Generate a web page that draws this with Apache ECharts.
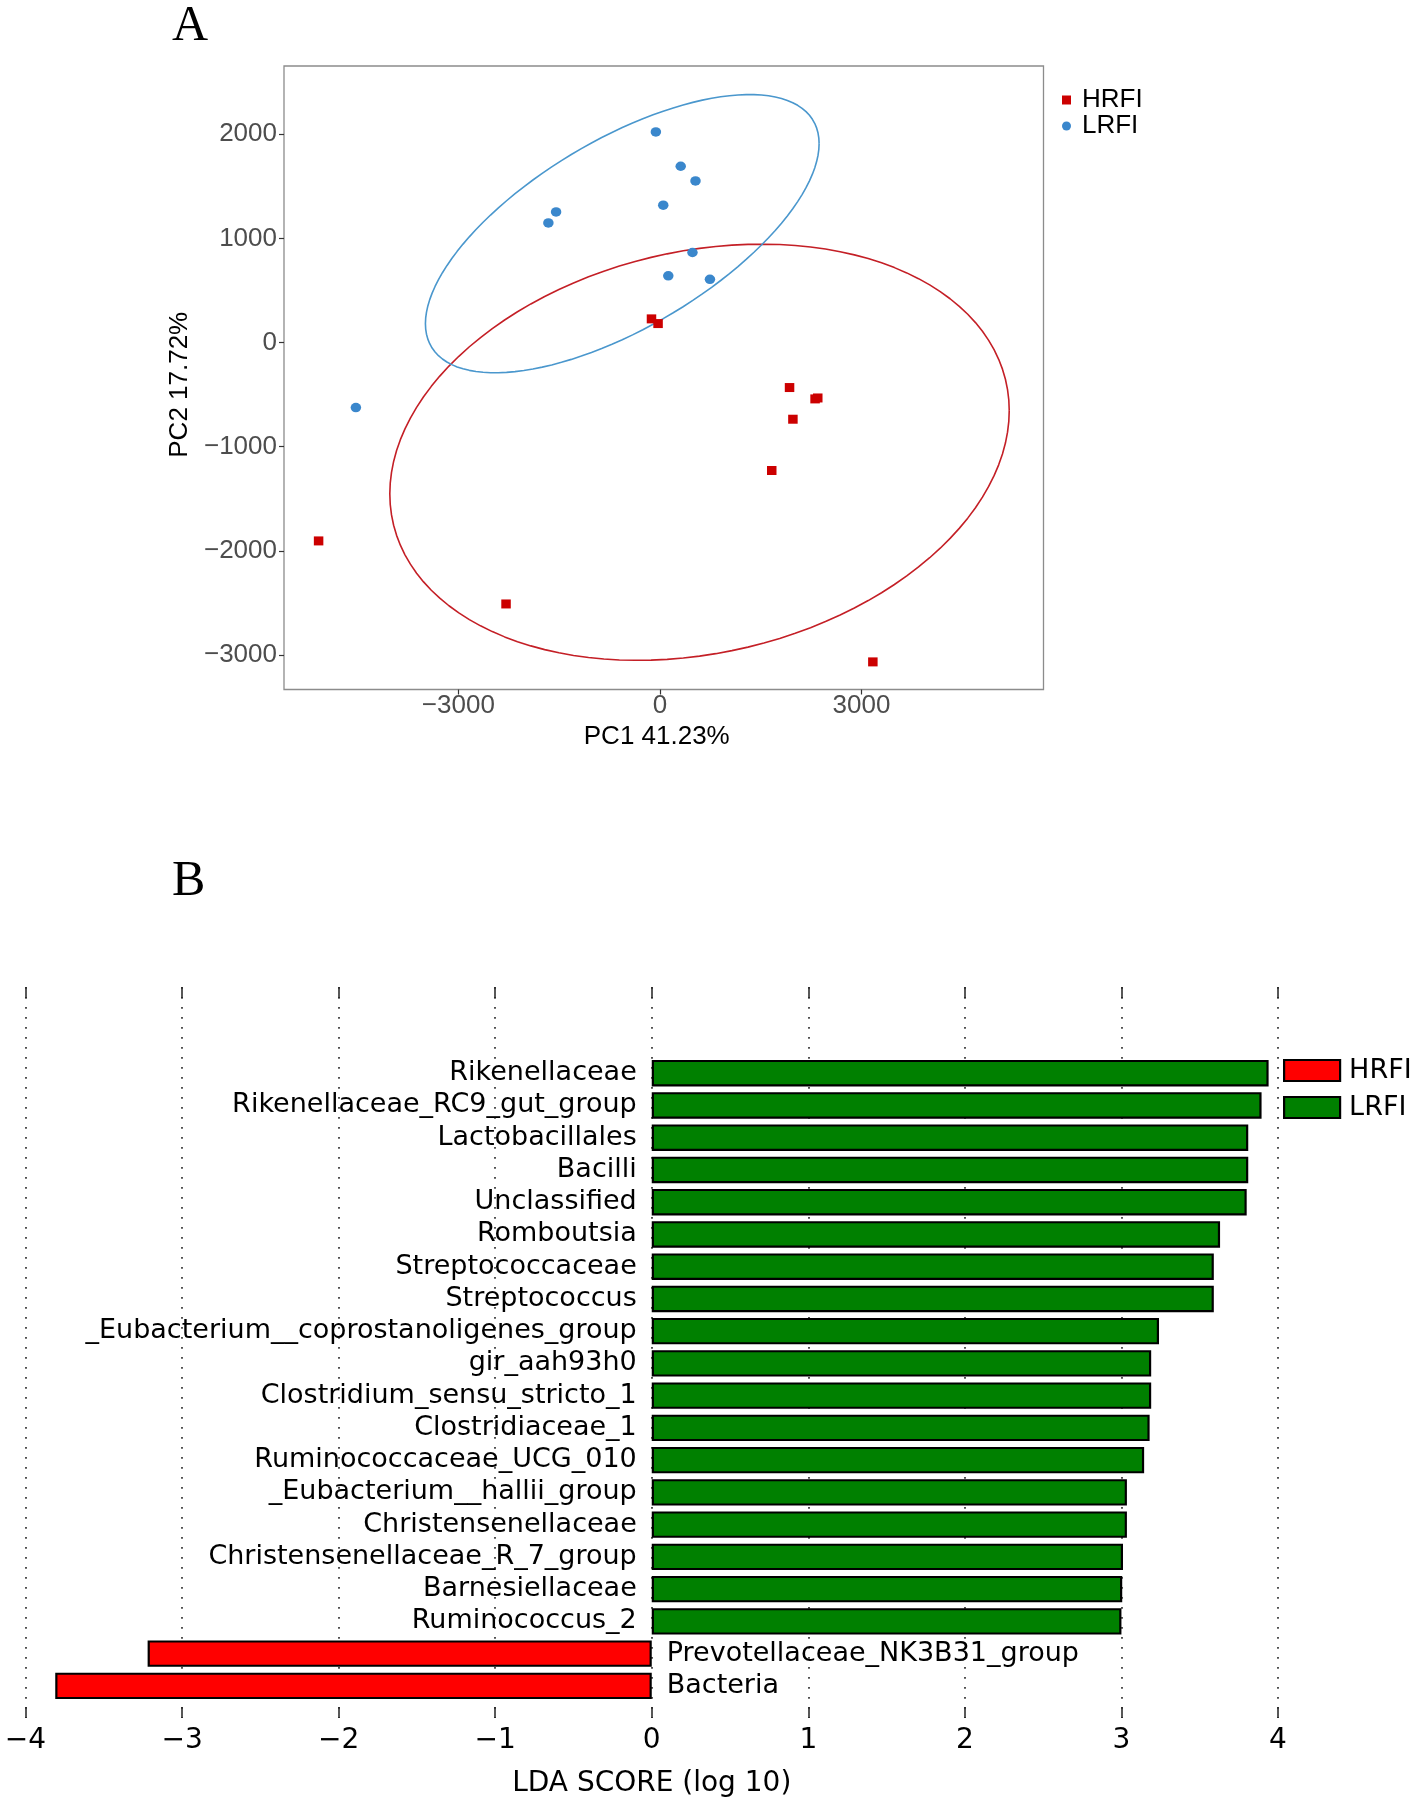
<!DOCTYPE html>
<html>
<head>
<meta charset="utf-8">
<script src="https://cdn.jsdelivr.net/npm/echarts@6/dist/echarts.min.js"></script>
<style>
  html, body { margin: 0; padding: 0; background: #fff; }
  #chartA { position: absolute; left: 0; top: 0; width: 1417px; height: 800px; }
  #chartB { position: absolute; left: 0; top: 800px; width: 1417px; height: 1005px; }
</style>
</head>
<body>
<div id="chartA"></div>
<div id="chartB"></div>
<script>
// ---------- Panel A data (PCA) ----------
const hrfiPC1 = [-125, -27, 1930, 2310, 2350, 1980, 1665, -5080, -2290, 3170];
const hrfiPC2 = [227, 182, -432, -541, -532, -736, -1228, -1904, -2509, -3065];
const lrfiPC1 = [-60, 310, 530, 50, -1545, -1660, 485, 125, 745, -4525];
const lrfiPC2 = [2021, 1692, 1551, 1318, 1253, 1148, 864, 640, 607, -624];
// ellipse: [centerX, centerY, halfWidthX, halfHeightY, correlation]
const hrfiEllipse = [590, -1053, 4610, 1997, 0.20];
const lrfiEllipse = [-560, 1045, 2930, 1335, 0.647];
const pcaXTicks = [-3000, 0, 3000];
const pcaYTicks = [-3000, -2000, -1000, 0, 1000, 2000];

// ---------- Panel B data (LEfSe LDA) ----------
const taxa = [
  'Rikenellaceae', 'Rikenellaceae_RC9_gut_group', 'Lactobacillales', 'Bacilli',
  'Unclassified', 'Romboutsia', 'Streptococcaceae', 'Streptococcus',
  '_Eubacterium__coprostanoligenes_group', 'gir_aah93h0', 'Clostridium_sensu_stricto_1',
  'Clostridiaceae_1', 'Ruminococcaceae_UCG_010', '_Eubacterium__hallii_group',
  'Christensenellaceae', 'Christensenellaceae_R_7_group', 'Barnesiellaceae',
  'Ruminococcus_2', 'Prevotellaceae_NK3B31_group', 'Bacteria'
];
const ldaScores = [3.94, 3.895, 3.81, 3.81, 3.80, 3.63, 3.59, 3.59, 3.24, 3.19, 3.19,
  3.18, 3.145, 3.035, 3.035, 3.01, 3.005, 3.00, -3.22, -3.81];
const taxaGroup = ['LRFI', 'LRFI', 'LRFI', 'LRFI', 'LRFI', 'LRFI', 'LRFI', 'LRFI', 'LRFI',
  'LRFI', 'LRFI', 'LRFI', 'LRFI', 'LRFI', 'LRFI', 'LRFI', 'LRFI', 'LRFI', 'HRFI', 'HRFI'];
const ldaTicks = [-4, -3, -2, -1, 0, 1, 2, 3, 4];

const minusFmt = v => (v < 0 ? '\u2212' + Math.abs(v) : String(v));

function ellipsePath(p) {
  const [cx, cy, sx, sy, r] = p;
  const pts = [];
  const n = 120;
  for (let i = 0; i <= n; i++) {
    const t = 2 * Math.PI * i / n;
    pts.push([cx + sx * Math.cos(t), cy + sy * (r * Math.cos(t) + Math.sqrt(1 - r * r) * Math.sin(t))]);
  }
  return pts;
}
const zip = (a, b) => a.map((v, i) => [v, b[i]]);

// ---------- Chart A ----------
const chartA = echarts.init(document.getElementById('chartA'));
const sansA = 'Liberation Sans';
chartA.setOption({
  animation: false,
  backgroundColor: '#fff',
  graphic: [{
    type: 'text', x: 172, y: 27,
    style: { text: 'A', font: '50px "Liberation Serif"', fill: '#000', verticalAlign: 'middle' }
  }],
  grid: {
    left: 284, top: 66, width: 759.5, height: 623.5,
    show: true, borderColor: '#8c8c8c', borderWidth: 1.3, backgroundColor: '#fff'
  },
  legend: {
    orient: 'vertical', left: 1062, top: 87, padding: 0,
    itemWidth: 9, itemHeight: 9, itemGap: 0,
    textStyle: { fontFamily: sansA, fontSize: 26, color: '#000', lineHeight: 23, padding: [0, 0, 0, 6] },
    data: [{ name: 'HRFI', icon: 'rect' }, { name: 'LRFI', icon: 'circle' }]
  },
  xAxis: {
    type: 'value', min: -5595, max: 5710,
    name: 'PC1 41.23%', nameLocation: 'middle', nameGap: 27,
    nameTextStyle: { fontFamily: sansA, fontSize: 26, color: '#000', padding: [0, 14, 0, 0] },
    axisLine: { show: false, onZero: false },
    splitLine: { show: false },
    axisTick: { show: true, length: 5, lineStyle: { color: '#333', width: 1.2 }, customValues: pcaXTicks },
    axisLabel: { fontFamily: sansA, fontSize: 26, color: '#4d4d4d', margin: 3, formatter: minusFmt, customValues: pcaXTicks }
  },
  yAxis: {
    type: 'value', min: -3330, max: 2654,
    name: 'PC2 17.72%', nameLocation: 'middle', nameGap: 84,
    nameTextStyle: { fontFamily: sansA, fontSize: 26, color: '#000', padding: [0, 14, 0, 0] },
    axisLine: { show: false, onZero: false },
    splitLine: { show: false },
    axisTick: { show: true, length: 5, lineStyle: { color: '#333', width: 1.2 }, customValues: pcaYTicks },
    axisLabel: { fontFamily: sansA, fontSize: 26, color: '#4d4d4d', margin: 7, formatter: minusFmt, customValues: pcaYTicks }
  },
  series: [
    {
      name: 'HRFIellipse', type: 'line', data: ellipsePath(hrfiEllipse), showSymbol: false, silent: true,
      lineStyle: { color: '#c41f26', width: 1.6 }, z: 2
    },
    {
      name: 'LRFIellipse', type: 'line', data: ellipsePath(lrfiEllipse), showSymbol: false, silent: true,
      lineStyle: { color: '#4a97cd', width: 1.6 }, z: 2
    },
    {
      name: 'HRFI', type: 'scatter', symbol: 'rect', symbolSize: [9.5, 9],
      itemStyle: { color: '#cc0000', opacity: 1 }, data: zip(hrfiPC1, hrfiPC2), z: 3
    },
    {
      name: 'LRFI', type: 'scatter', symbol: 'circle', symbolSize: [10.5, 9.5],
      itemStyle: { color: '#3a87cc', opacity: 1 }, data: zip(lrfiPC1, lrfiPC2), z: 3
    }
  ]
});

// ---------- Chart B ----------
const chartB = echarts.init(document.getElementById('chartB'));
const sansB = 'DejaVu Sans';
const groupColor = { HRFI: '#ff0000', LRFI: '#008000' };
function barData(group) {
  return ldaScores.map((v, i) => {
    if (taxaGroup[i] !== group) return '-';
    return { value: v, label: { position: v >= 0 ? 'left' : 'right' } };
  });
}
chartB.setOption({
  animation: false,
  backgroundColor: '#fff',
  graphic: [{
    type: 'text', x: 172, y: 82,
    style: { text: 'B', font: '50px "Liberation Serif"', fill: '#000', verticalAlign: 'middle' }
  }],
  grid: [
    { left: 25.5, top: 187, width: 1252.5, height: 731 },
    { left: 25.5, top: 257, width: 1252.5, height: 645 }
  ],
  legend: {
    orient: 'vertical', left: 1283, top: 257, padding: 0,
    itemWidth: 56, itemHeight: 21, itemGap: 10,
    textStyle: { fontFamily: sansB, fontSize: 27, color: '#000', padding: [0, 0, 0, 4] },
    data: [
      { name: 'HRFI', icon: 'rect', itemStyle: { color: '#ff0000', borderColor: '#000', borderWidth: 2.2 } },
      { name: 'LRFI', icon: 'rect', itemStyle: { color: '#008000', borderColor: '#000', borderWidth: 2.2 } }
    ]
  },
  xAxis: [
    {
      gridIndex: 0, type: 'value', min: -4, max: 4, interval: 1, position: 'bottom',
      name: 'LDA SCORE (log 10)', nameLocation: 'middle', nameGap: 52,
      nameTextStyle: { fontFamily: sansB, fontSize: 28, color: '#000' },
      axisLine: { show: false, onZero: false },
      axisTick: { show: true, inside: true, length: 11, lineStyle: { color: '#222', width: 1.5 } },
      axisLabel: { fontFamily: sansB, fontSize: 28, color: '#000', margin: 9, formatter: minusFmt },
      splitLine: { show: true, lineStyle: { color: '#333', width: 1.7, type: [1.7, 8.3] } }
    },
    {
      gridIndex: 0, type: 'value', min: -4, max: 4, interval: 1, position: 'top',
      axisLine: { show: false, onZero: false },
      axisTick: { show: true, inside: true, length: 11, lineStyle: { color: '#222', width: 1.5 } },
      axisLabel: { show: false },
      splitLine: { show: false }
    },
    {
      gridIndex: 1, type: 'value', min: -4, max: 4, show: false
    }
  ],
  yAxis: [
    { gridIndex: 0, type: 'value', min: 0, max: 1, show: false },
    { gridIndex: 1, type: 'category', data: taxa, inverse: true, show: false }
  ],
  series: ['HRFI', 'LRFI'].map(g => ({
    name: g, type: 'bar', xAxisIndex: 2, yAxisIndex: 1,
    barWidth: 26.5, barGap: '-100%',
    data: barData(g),
    itemStyle: { color: groupColor[g], borderColor: '#000', borderWidth: 2.2 },
    label: {
      show: true, distance: 15, formatter: p => p.name,
      fontFamily: sansB, fontSize: 27, color: '#000'
    },
    z: 3
  }))
});
</script>
</body>
</html>
